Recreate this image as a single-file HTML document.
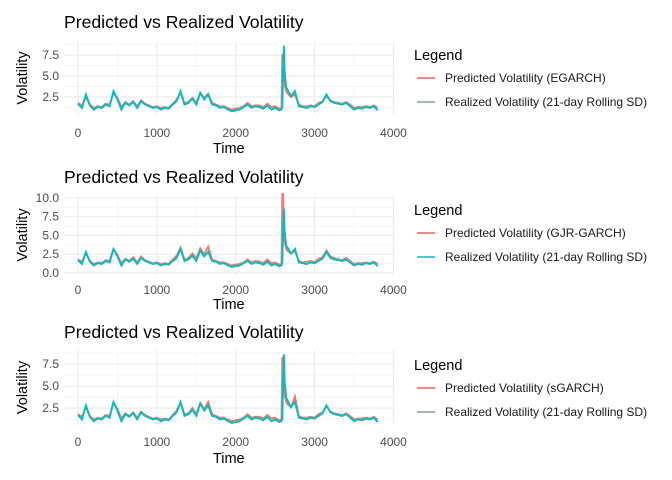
<!DOCTYPE html>
<html><head><meta charset="utf-8"><style>
html,body{margin:0;padding:0;background:#fff;}
svg{display:block;font-family:"Liberation Sans",Arial,sans-serif;}
</style></head><body>
<svg id="c" width="672" height="480" viewBox="0 0 672 480"></svg>
<script>
const times=[0,50,100,150,200,250,300,350,400,450,500,550,600,650,700,750,800,850,900,950,1000,1050,1100,1150,1200,1250,1300,1350,1400,1450,1500,1550,1600,1650,1700,1750,1800,1850,1900,1950,2000,2050,2100,2150,2200,2250,2300,2350,2400,2450,2500,2550,2580,2590,2600,2610,2620,2640,2650,2700,2750,2800,2850,2900,2950,3000,3050,3100,3150,3200,3250,3300,3350,3400,3450,3500,3550,3600,3650,3700,3750,3800];
const realized=[1.7,1.2,2.8,1.5,1.0,1.3,1.2,1.6,1.4,3.2,2.2,1.0,1.8,1.5,1.9,1.2,2.0,1.6,1.4,1.2,1.3,1.0,1.2,1.1,1.6,2.0,3.2,1.6,1.8,2.3,1.6,3.0,2.2,2.8,1.6,1.5,1.2,1.3,1.0,0.8,0.9,1.0,1.3,1.6,1.2,1.4,1.3,1.1,1.5,1.0,1.2,0.9,1.0,1.4,5.0,8.6,5.5,3.6,3.5,2.6,3.2,1.4,1.3,1.2,1.4,1.3,1.6,1.9,2.8,2.0,1.8,1.7,1.6,1.8,1.4,1.0,1.2,1.1,1.3,1.2,1.4,0.9];
const predEgarch=[1.8,1.5,2.5,1.6,1.2,1.4,1.3,1.7,1.6,3.0,2.4,1.3,1.9,1.6,2.0,1.4,2.1,1.7,1.5,1.3,1.4,1.2,1.3,1.2,1.7,2.2,3.0,1.8,1.9,2.4,1.8,3.0,2.4,2.9,1.8,1.6,1.4,1.4,1.2,1.0,1.1,1.2,1.4,1.8,1.4,1.5,1.5,1.3,1.7,1.3,1.4,1.1,1.2,7.6,7.2,5.0,4.0,3.2,3.0,2.5,2.8,1.6,1.4,1.4,1.5,1.4,1.8,2.0,2.6,2.1,1.9,1.8,1.7,1.9,1.6,1.2,1.3,1.3,1.4,1.3,1.5,1.2];
const predGjr=[1.8,1.5,2.6,1.6,1.2,1.4,1.3,1.7,1.6,3.2,2.4,1.3,1.9,1.6,2.1,1.4,2.2,1.7,1.5,1.3,1.4,1.2,1.3,1.2,1.8,2.3,3.4,1.8,2.0,2.6,1.9,3.3,2.5,3.5,1.8,1.6,1.4,1.4,1.2,1.0,1.1,1.2,1.4,1.8,1.4,1.6,1.5,1.3,1.8,1.3,1.4,1.1,1.2,10.5,10.5,6.0,4.2,3.2,3.0,2.6,2.9,1.6,1.4,1.5,1.6,1.4,1.9,2.1,3.0,2.2,2.0,1.8,1.7,2.0,1.6,1.2,1.3,1.3,1.4,1.3,1.5,1.2];
const predSgarch=[1.8,1.5,2.6,1.6,1.2,1.4,1.3,1.7,1.6,3.1,2.4,1.3,1.9,1.6,2.0,1.4,2.1,1.7,1.5,1.3,1.4,1.2,1.3,1.2,1.7,2.2,3.1,1.8,1.9,2.5,1.8,3.1,2.4,3.2,1.8,1.6,1.4,1.4,1.2,1.0,1.1,1.2,1.4,1.8,1.4,1.5,1.5,1.3,1.7,1.3,1.4,1.1,1.2,8.3,8.0,5.2,4.0,3.2,3.0,2.6,3.8,1.6,1.4,1.4,1.5,1.4,1.8,2.0,2.7,2.1,1.9,1.8,1.7,1.9,1.6,1.2,1.3,1.3,1.4,1.3,1.5,1.2];
const xTicks=[0,1000,2000,3000,4000];
const xTickLabels=["0","1000","2000","3000","4000"];
const modelNames=["EGARCH","GJR-GARCH","sGARCH"];
const yTicks1=[2.5,5.0,7.5], yTicks2=[0,2.5,5.0,7.5,10.0], yTicks3=[2.5,5.0,7.5];

const svg=document.getElementById('c');
const NS='http://www.w3.org/2000/svg';
function mk(tag,attrs,parent){const e=document.createElementNS(NS,tag);for(const k in attrs)e.setAttribute(k,attrs[k]);(parent||svg).appendChild(e);return e;}

const panels=[
 {top:42,bottom:114,ymin:0.48,ymax:9.05,yt:yTicks1,pred:predEgarch,name:modelNames[0],titleY:28,xlabY:137,timeY:153,legY:60,thinKey:true},
 {top:195,bottom:275,ymin:-0.27,ymax:10.4,yt:yTicks2,pred:predGjr,name:modelNames[1],titleY:183,xlabY:294,timeY:309,legY:215,thinKey:false},
 {top:350,bottom:425,ymin:0.57,ymax:9.1,yt:yTicks3,pred:predSgarch,name:modelNames[2],titleY:338,xlabY:446,timeY:463,legY:370,thinKey:true}
];
const L=64,R=393, X0=78, X1=393.5;
function xs(t){return X0+(t/4000)*(X1-X0);}
panels.forEach((p,i)=>{
  const g=mk('g',{});
  
  
  const ys=v=>p.bottom-(v-p.ymin)/(p.ymax-p.ymin)*(p.bottom-p.top);
  for(let k=0;k<xTicks.length-1;k++){const x=xs((xTicks[k]+xTicks[k+1])/2);mk('line',{x1:x,x2:x,y1:p.top,y2:p.bottom,stroke:'#f2f2f2','stroke-width':0.6},g);}
  for(let k=0;k<p.yt.length;k++){const step=p.yt.length>1?p.yt[1]-p.yt[0]:2.5;[p.yt[k]-step/2,p.yt[k]+step/2].forEach(v=>{if(v>p.ymin&&v<p.ymax){const y=ys(v);mk('line',{x1:L,x2:R,y1:y,y2:y,stroke:'#f2f2f2','stroke-width':0.6},g);}});}
  xTicks.forEach((t,k)=>{const x=xs(t);mk('line',{x1:x,x2:x,y1:p.top,y2:p.bottom,stroke:'#ebebeb','stroke-width':1.1},g);
    const tx=mk('text',{x:x,y:p.xlabY,'text-anchor':'middle','font-size':12,fill:'#4d4d4d'},g);tx.textContent=xTickLabels[k];
    });
  p.yt.forEach(v=>{const y=ys(v);mk('line',{x1:L,x2:R,y1:y,y2:y,stroke:'#ebebeb','stroke-width':1.1},g);
    const tx=mk('text',{x:59,y:y+4,'text-anchor':'end','font-size':12,fill:'#4d4d4d'},g);tx.textContent=v.toFixed(1);
    });
  const pp=mk('polyline',{points:times.map((t,k)=>xs(t)+','+ys(p.pred[k])).join(' '),fill:'none',stroke:'#F8766D','stroke-width':1.9,'stroke-linejoin':'miter'},g);
  
  const rp=mk('polyline',{points:times.map((t,k)=>xs(t)+','+ys(realized[k])).join(' '),fill:'none',stroke:'#00BFC4','stroke-width':1.9,'stroke-linejoin':'miter'},g);
  
  const ti=mk('text',{x:64,y:p.titleY,'font-size':17.6,fill:'#000'},g);ti.textContent='Predicted vs Realized Volatility';
  
  const xt=mk('text',{x:(X0+X1)/2-7,y:p.timeY,'text-anchor':'middle','font-size':14.5,fill:'#000'},g);xt.textContent='Time';
  
  const cy=(p.top+p.bottom)/2;
  const yt=mk('text',{x:27,y:cy,'text-anchor':'middle','font-size':14.5,fill:'#000',transform:'rotate(-90 27 '+cy+')'},g);yt.textContent='Volatility';
  
  const lg=mk('g',{},g);
  
  const lt=mk('text',{x:414,y:p.legY,'font-size':14.5,fill:'#000'},lg);lt.textContent='Legend';
  mk('line',{x1:417,x2:435,y1:p.legY+18,y2:p.legY+18,stroke:'#F8766D','stroke-width':1.8},lg);
  const e1=mk('text',{x:445,y:p.legY+22,'font-size':12,fill:'#1a1a1a'},lg);e1.textContent='Predicted Volatility ('+p.name+')';
  
  mk('line',{x1:417,x2:435,y1:p.legY+42,y2:p.legY+42,stroke:p.thinKey?'#4a6e70':'#00BFC4','stroke-width':p.thinKey?1:1.6},lg);
  const e2=mk('text',{x:445,y:p.legY+46,'font-size':12,fill:'#1a1a1a'},lg);e2.textContent='Realized Volatility (21-day Rolling SD)';
  
});
</script>
</body></html>
